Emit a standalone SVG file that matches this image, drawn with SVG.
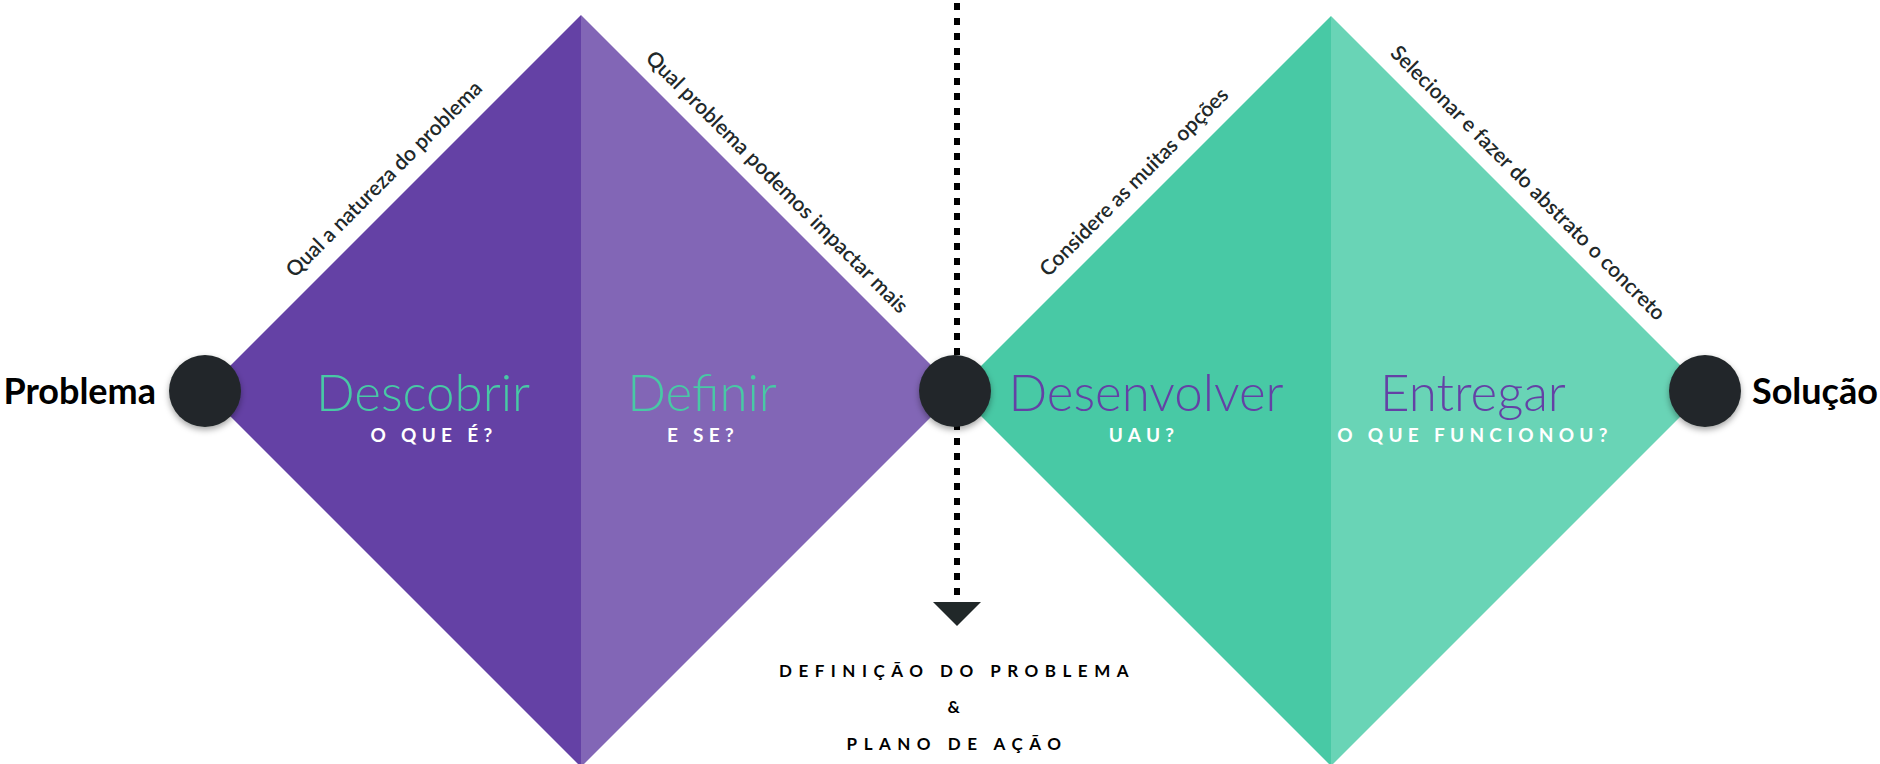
<svg xmlns="http://www.w3.org/2000/svg" width="1880" height="764" viewBox="0 0 1880 764">
<defs>
<filter id="sh" x="-30%" y="-30%" width="160%" height="170%">
<feDropShadow dx="0" dy="3" stdDeviation="3" flood-color="#000" flood-opacity="0.35"/>
</filter>
</defs>
<style>
.node{fill:#212829;filter:url(#sh)}
.end{font-family:Lato,"Liberation Sans",sans-serif;font-weight:700;font-size:36px;fill:#000}
.title{font-family:Lato,"Liberation Sans",sans-serif;font-weight:300;font-size:51px}
.sub{font-family:Lato,"Liberation Sans",sans-serif;font-weight:700;font-size:19px;letter-spacing:5.3px;fill:#fff}
.diag{font-family:Lato,"Liberation Sans",sans-serif;font-weight:600;font-size:21px;fill:#212829}
.bot{font-family:Lato,"Liberation Sans",sans-serif;font-weight:700;font-size:17px;letter-spacing:6.5px;fill:#000}
</style>
<g id="discover">
<polygon points="205,391 581,15 581,767" fill="#6441A5"/>
<text class="title" x="423" y="411" text-anchor="middle" fill="#48C9A5">Descobrir</text>
<text class="sub" x="434" y="442" text-anchor="middle">O QUE É?</text>
<text class="diag" x="389" y="184" text-anchor="middle" transform="rotate(-45 389 184)">Qual a natureza do problema</text>
</g>
<g id="define">
<polygon points="581,15 957,391 581,767" fill="#8266B6"/>
<text class="title" x="702" y="411" text-anchor="middle" fill="#48C9A5">Definir</text>
<text class="sub" x="703" y="442" text-anchor="middle">E SE?</text>
<text class="diag" x="772" y="187" text-anchor="middle" transform="rotate(45 772 187)">Qual problema podemos impactar mais</text>
</g>
<g id="develop">
<polygon points="956,391 1331,16 1331,766" fill="#48C9A5"/>
<text class="title" x="1146" y="411" text-anchor="middle" fill="#6441A5">Desenvolver</text>
<text class="sub" x="1144" y="442" text-anchor="middle">UAU?</text>
<text class="diag" x="1139" y="187" text-anchor="middle" transform="rotate(-45 1139 187)">Considere as muitas opções</text>
</g>
<g id="deliver">
<polygon points="1331,16 1706,391 1331,766" fill="#69D4B6"/>
<text class="title" x="1473" y="411" text-anchor="middle" fill="#6441A5">Entregar</text>
<text class="sub" x="1475" y="442" text-anchor="middle">O QUE FUNCIONOU?</text>
<text class="diag" x="1523" y="188" text-anchor="middle" transform="rotate(45 1523 188)">Selecionar e fazer do abstrato o concreto</text>
</g>
<g id="connectors">
<line x1="957" y1="-10" x2="957" y2="602" stroke="#000" stroke-width="6" stroke-dasharray="7 8" stroke-dashoffset="2"/>
<polygon points="933,602 981,602 957,626" fill="#212829"/>
</g>
<g id="problema">
<circle class="node" cx="205" cy="391" r="36"/>
<text class="end" x="156" y="404" text-anchor="end">Problema</text>
</g>
<g id="midpoint">
<circle class="node" cx="955" cy="391" r="36"/>
</g>
<g id="solucao">
<circle class="node" cx="1705" cy="391" r="36"/>
<text class="end" x="1752" y="404">Solução</text>
</g>
<g id="outcome">
<text class="bot" x="957" y="677" text-anchor="middle">DEFINIÇÃO DO PROBLEMA</text>
<text class="bot" x="957" y="713" text-anchor="middle">&amp;</text>
<text class="bot" x="957" y="750" text-anchor="middle">PLANO DE AÇÃO</text>
</g>
</svg>
